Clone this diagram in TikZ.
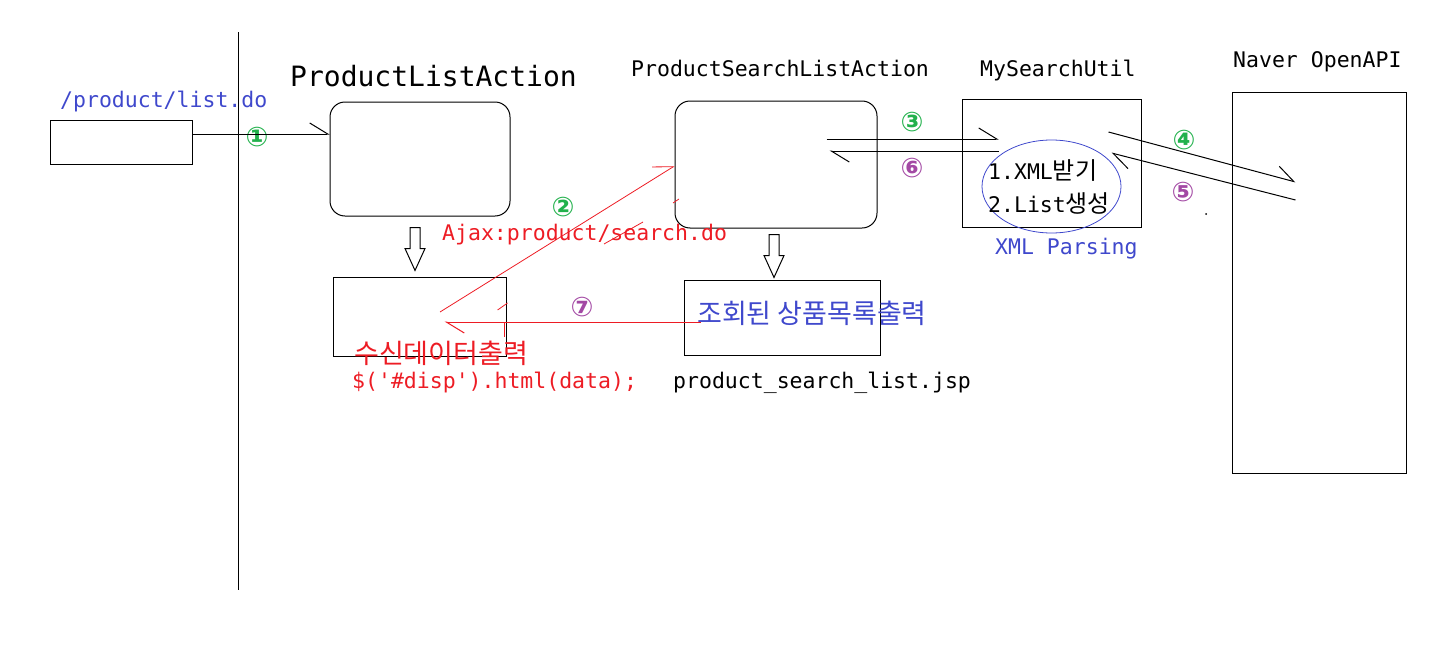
\documentclass[tikz,border=0pt]{standalone}
\usepackage{fontspec}
\setmainfont{DejaVu Sans}
\setmonofont{DejaVu Sans Mono}
\newfontfamily\krfont{Noto Sans CJK KR}
\usetikzlibrary{arrows.meta,shapes.geometric,calc}
\usepackage{xcolor}
\definecolor{paintred}{HTML}{ED1C24}
\definecolor{paintgreen}{HTML}{22B14C}
\definecolor{paintpurple}{HTML}{A349A4}
\definecolor{paintblue}{HTML}{3F48CC}

% hollow block arrow pointing down: #1 top of shaft, #2 tip
\newcommand{\hollowarrow}[2]{%
  \draw[line width=1pt] ($(#2 |- #1)+(-5,0)$) -- ($(#2)+(-5,-22)$) -- ($(#2)+(-10,-22)$)
    -- (#2) -- ($(#2)+(10,-22)$) -- ($(#2)+(5,-22)$) -- ($(#2 |- #1)+(5,0)$) -- cycle;}

\begin{document}
\begin{tikzpicture}[x=1pt,y=-1pt,
  box/.style={draw,line width=1pt,inner sep=0pt},
  roundbox/.style={box,rounded corners=15pt},
  txt/.style={inner sep=0pt,anchor=west,font=\ttfamily\fontsize{21.5}{24}\selectfont},
  krtxt/.style={inner sep=0pt,anchor=west,font=\krfont\fontsize{27}{30}\selectfont},
  num/.style={inner sep=0pt,font=\bfseries\fontsize{27}{29}\selectfont},
  flow/.style={line width=1pt,-{Straight Barb[harpoon,length=18pt,width=22pt]}},
  doodle/.style={paintred,line width=0.8pt}]

\useasboundingbox (0,0) rectangle (1439,645);

% browser side / server side
\draw[line width=1pt] (238.5,32) -- (238.5,590);

% boxes
\node[box,minimum width=142,minimum height=44] (listbox) at (121,142) {};
\node[roundbox,minimum width=180,minimum height=114] (pla) at (420,159) {};
\node[box,minimum width=173,minimum height=79] (outbox) at (419.5,316.5) {};
\node[roundbox,minimum width=202,minimum height=127] (psla) at (776,164.5) {};
\node[box,minimum width=196,minimum height=75] (jsp) at (782,317.5) {};
\node[box,minimum width=179,minimum height=128] (util) at (1051.5,163) {};
\node[box,minimum width=174,minimum height=381] (naver) at (1319,282.5) {};
\node[ellipse,draw=paintblue,line width=0.8pt,inner sep=0pt,
      minimum width=139,minimum height=93] (parse) at (1051.5,186.5) {};

% titles
\node[txt,text=paintblue] (listurl) at (60,102) {/product/list.do};
\node[txt,font=\ttfamily\fontsize{28}{32}\selectfont] (platitle) at (290,76) {ProductListAction};
\node[txt] (pslatitle) at (631,68) {ProductSearchListAction};
\node[txt] (utiltitle) at (980,71) {MySearchUtil};
\node[txt] (navertitle) at (1233,62) {Naver OpenAPI};

% texts
\node[txt,text=paintred] (ajax) at (442,235) {Ajax:product/search.do};
\node[krtxt,text=paintred] (recv) at (354,353) {수신데이터출력};
\node[txt,text=paintred] (disp) at (352,383) {\$('\#disp').html(data);};
\node[krtxt,text=paintblue] (result) at (697,313) {조회된\hspace{6pt}상품목록출력};
\node[txt] (jspname) at (673,383) {product\_search\_list.jsp};
\node[txt] (step1) at (988,171) {1.XML{\krfont\fontsize{24}{26}\selectfont 받기}};
\node[txt] (step2) at (988,203) {2.List{\krfont\fontsize{24}{26}\selectfont 생성}};
\node[txt,text=paintblue] (parsing) at (995,249) {XML Parsing};

% step numbers
\node[num,text=paintgreen] (n1) at (257,137) {①};
\node[num,text=paintgreen] (n2) at (563,207) {②};
\node[num,text=paintgreen] (n3) at (912,122) {③};
\node[num,text=paintgreen] (n4) at (1184,140) {④};
\node[num,text=paintpurple] (n5) at (1183,192) {⑤};
\node[num,text=paintpurple] (n6) at (912,168) {⑥};
\node[num,text=paintpurple] (n7) at (582,307) {⑦};

% request / response flow
\draw[flow] ([yshift=8pt]listbox.east) -- ([yshift=25pt]pla.west);
\draw[flow,paintred,line width=0.8pt] ([xshift=20.5pt,yshift=4.5pt]outbox.center) -- ([yshift=-1.5pt]psla.west);
\draw[flow] ([xshift=-51pt,yshift=25.5pt]psla.east) -- ([xshift=37pt,yshift=24pt]util.west);
\draw[flow] ([xshift=-33pt,yshift=31pt]util.east) -- ([xshift=64pt,yshift=100.5pt]naver.west);
\draw[flow] ([xshift=64pt,yshift=82.5pt]naver.west) -- ([xshift=-30pt,yshift=10pt]util.east);
\draw[flow] ([xshift=37pt,yshift=12pt]util.west) -- ([xshift=-48pt,yshift=13.5pt]psla.east);
\draw[flow,paintred] ([xshift=17pt,yshift=-4.5pt]jsp.west) -- ([xshift=25pt,yshift=-5.5pt]outbox.center);

% forward to view
\coordinate (a1top) at ([yshift=-11pt]pla.south);
\coordinate (a1tip) at ([xshift=-4.5pt,yshift=6pt]outbox.north);
\hollowarrow{a1top}{a1tip}
\coordinate (a2top) at ([yshift=-6pt]psla.south);
\coordinate (a2tip) at ([xshift=-8pt,yshift=2pt]jsp.north);
\hollowarrow{a2top}{a2tip}

% pen marks
\draw[doodle] (504.6,322) -- (504.6,337);
\draw[doodle] (497.6,310) -- (507.5,303);
\draw[doodle] (604,244) -- (643,222);
\draw[doodle] (673,203) -- (679,199);
\fill (1206,214) circle (1);

\end{tikzpicture}
\end{document}
